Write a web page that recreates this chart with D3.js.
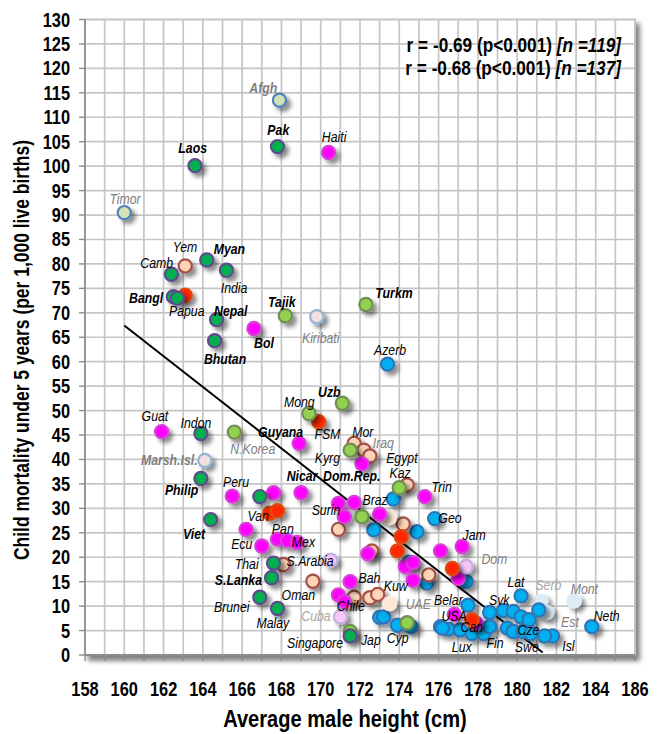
<!DOCTYPE html>
<html>
<head>
<meta charset="utf-8">
<script src="https://cdn.jsdelivr.net/npm/d3@7"></script>
<style>
body { margin: 0; background: #fff; }
</style>
</head>
<body>
<svg id="chart" width="664" height="734"></svg>
<script>
// --- data: [height cm, under-5 mortality] ---
const asia = [[167.8,104.0],[163.6,100.1],[164.2,80.8],[162.4,77.9],[165.2,78.7],[162.5,73.3],[162.7,73.0],
  [164.7,68.6],[164.6,64.3],[163.9,45.3],[163.9,36.1],[164.4,27.7],[166.9,32.4],[167.6,18.8],[167.5,15.8],
  [166.9,11.8],[167.8,9.5],[171.5,3.9]];
const centralAsia = [[168.2,69.4],[172.3,71.7],[171.1,51.5],[169.4,49.4],[165.6,45.6],[171.5,41.9],[174.0,34.2],
  [172.1,28.3],[174.4,6.6],[171.5,4.8]];
const latin = [[170.4,102.8],[166.6,66.8],[161.9,45.7],[168.9,43.3],[172.1,39.1],[165.5,32.5],[167.6,33.2],
  [169.0,33.2],[170.9,31.0],[171.7,31.2],[171.2,28.3],[173.0,28.8],[175.3,32.4],[166.2,25.7],[167.0,22.3],
  [167.8,23.7],[168.3,23.4],[168.8,23.0],[172.4,20.7],[171.5,15.0],[170.9,12.3],[171.2,10.9],[176.1,21.3],
  [177.2,22.2],[174.3,18.1],[174.7,18.9],[174.7,15.3],[177.0,15.7],[176.8,8.3],[177.9,6.5]];
const pacific = [[163.1,73.6],[169.9,47.7],[167.4,29.0],[167.8,29.5],[174.1,24.2],[173.9,21.3],[176.7,17.7],[177.7,7.2]];
const middleEast = [[163.1,79.6],[171.7,43.3],[172.2,41.9],[172.5,40.7],[174.4,34.8],[174.2,26.8],[170.9,25.7],
  [172.6,21.3],[168.1,18.5],[169.6,15.1],[171.7,11.8],[172.5,11.7],[172.9,12.4],[175.5,16.4]];
const europe = [[173.4,59.5],[173.7,31.9],[175.8,27.9],[174.9,25.2],[172.7,25.6],[175.4,14.7],[177.4,15.0],
  [174.5,19.0],[173.0,7.7],[173.9,6.1],[174.6,5.8],[173.2,7.8],[180.2,12.1],[181.1,9.2],[183.8,5.8],[181.8,3.9],
  [181.4,3.9],[179.3,9.1],[179.8,8.9],[180.2,7.8],[180.6,7.2],[178.6,8.7],[177.5,10.2],[176.1,5.8],[176.5,5.3],
  [177.1,5.1],[177.7,4.4],[178.3,4.4],[178.6,5.8],[179.5,5.5],[179.8,4.8],[180.3,4.8],[180.7,4.4],[176.2,5.5]];
// excluded countries (grey labels)
const exAsia = [[167.9,113.5],[160.0,90.5]];
const exPacific = [[169.8,69.2],[164.1,39.8]];
const exLatin = [[170.5,19.4],[171.0,7.8],[177.4,18.1]];
const exMiddleEast = [[173.5,28.1],[173.5,10.5]];
const exEurope = [[181.2,11.0],[181.5,8.7],[182.9,11.1]];

const fitLine = [[160, 67.4], [181.3, 0.5]];
const xTicks = d3.range(158, 187, 2);
const yTicks = d3.range(0, 131, 5);
const stats = [["r = -0.69 (p<0.001) ", "[n =119]"], ["r = -0.68 (p<0.001)  ", "[n =137]"]];

// [label, x, y, style]
const labels = [
  ["Afgh",167.08,116.1,"gb"],["Pak",167.84,107.5,"b"],["Haiti",170.68,106.0,"i"],["Laos",163.48,103.7,"b"],
  ["Timor",160.04,93.4,"g"],["Yem",163.09,83.5,"i"],["Myan",165.35,83.2,"b"],["Camb",161.65,80.3,"i"],
  ["India",165.59,75.2,"i"],["Bangl",161.11,73.0,"b"],["Papua",163.18,70.4,"i"],["Nepal",165.42,70.4,"b"],
  ["Bol",167.11,63.9,"b"],["Bhutan",165.13,60.7,"b"],["Tajik",168.02,72.3,"b"],["Kiribati",170.0,64.9,"g"],
  ["Turkm",173.73,74.2,"b"],["Azerb",173.53,62.4,"i"],["Uzb",170.44,53.9,"b"],["Mong",168.91,51.8,"i"],
  ["FSM",170.34,45.2,"i"],["Guyana",167.96,45.6,"b"],["Mor",172.14,45.7,"i"],["Iraq",173.19,43.4,"g"],
  ["Kyrg",170.34,40.4,"i"],["Egypt",174.13,40.4,"i"],["Kaz",174.04,37.2,"i"],["Nicar",169.05,36.6,"b"],
  ["Dom.Rep.",171.58,36.6,"b"],["Trin",176.16,34.4,"i"],["Braz",172.77,31.7,"i"],["Surin",170.27,29.8,"i"],
  ["Geo",176.58,28.0,"i"],["Jam",177.81,24.5,"i"],["Dom",178.84,19.6,"g"],["Guat",161.56,48.9,"i"],
  ["Indon",163.65,47.5,"i"],["N.Korea",166.54,42.1,"g"],["Marsh.Isl.",162.29,40.0,"gb"],["Philip",162.92,33.8,"b"],
  ["Peru",165.69,35.5,"i"],["Van",166.82,28.4,"i"],["Viet",163.55,24.8,"b"],["Ecu",165.98,22.7,"i"],
  ["Pan",168.07,25.9,"i"],["Mex",169.12,23.2,"i"],["Thai",166.23,18.6,"i"],["S.Arabia",169.46,19.2,"i"],
  ["S.Lanka",165.81,15.3,"b"],["Oman",168.86,12.4,"i"],["Brunei",165.47,9.9,"i"],["Malay",167.56,6.5,"i"],
  ["Cuba",169.76,8.0,"lg"],["Singapore",169.71,2.5,"i"],["Chile",171.53,10.0,"i"],["Bah",172.48,15.9,"i"],
  ["Kuw",173.82,14.2,"i"],["UAE",174.97,10.4,"g"],["Jap",172.55,3.2,"i"],["Cyp",173.92,3.6,"i"],
  ["Belar",176.5,11.4,"i"],["USA",176.79,8.0,"i"],["Can",177.69,5.8,"i"],["Lux",177.18,1.6,"i"],
  ["Fin",178.88,2.5,"i"],["Swe",180.49,1.6,"i"],["Cze",180.57,5.1,"i"],["Svk",179.09,11.3,"i"],
  ["Lat",179.94,15.0,"i"],["Serb",181.59,14.3,"lg"],["Mont",183.42,13.6,"g"],["Est",182.69,6.8,"g"],
  ["Neth",184.56,8.0,"i"],["Isl",182.61,1.8,"i"]
];

// marker looks per group
const groups = [
  {pts: exEurope, fill: "#dcecf4", stroke: "#dcecf4"},
  {pts: europe, fill: "#00b0f0", stroke: "#2e75b6"},
  {pts: middleEast, fill: "#fbd5b5", stroke: "#a5504a"},
  {pts: exMiddleEast, fill: "#fde9d9", stroke: "#fde9d9"},
  {pts: latin, fill: "#ff00ff", stroke: "#d63fd6"},
  {pts: exLatin, fill: "#f8c6f8", stroke: "#c6b0e0"},
  {pts: pacific, fill: "#ff2800", stroke: "#e04a10"},
  {pts: exPacific, fill: "#f2e0de", stroke: "#95b3d7"},
  {pts: centralAsia, fill: "#92d050", stroke: "#6f8f52"},
  {pts: exAsia, fill: "#d4e2b6", stroke: "#4f81bd"},
  {pts: asia, fill: "#00b050", stroke: "#5f4b8b"}
];
const labelStyle = {
  b: {weight: "bold", color: "#000"}, i: {weight: "normal", color: "#000"},
  g: {weight: "normal", color: "#808080"}, gb: {weight: "bold", color: "#7f7f7f"},
  lg: {weight: "normal", color: "#a6a6a6"}
};

// use a narrow face if there is one, otherwise squeeze Liberation Sans
function hasFont(f) {
  const c = document.createElement("canvas").getContext("2d");
  c.font = "20px monospace";
  const a = c.measureText("Singapore 158").width;
  c.font = `20px "${f}", monospace`;
  return c.measureText("Singapore 158").width !== a;
}
const narrow = hasFont("Liberation Sans Narrow");
const FONT = narrow ? '"Liberation Sans Narrow", "Arial Narrow", sans-serif' : '"Liberation Sans", Arial, sans-serif';
const SX = narrow ? 1 : 0.82;
function place(t, x, y, rot) {
  t.attr("transform", `translate(${x},${y})${rot ? " rotate(" + rot + ")" : ""} scale(${SX},1)`);
}

const svg = d3.select("#chart");
const x = d3.scaleLinear().domain([158, 186]).range([85, 635]);
const y = d3.scaleLinear().domain([0, 130]).range([655, 19.5]);

const defs = svg.append("defs");
const sh = defs.append("filter").attr("id", "sh").attr("x", "-50%").attr("y", "-50%").attr("width", "220%").attr("height", "220%");
sh.append("feDropShadow").attr("dx", 4).attr("dy", 4).attr("stdDeviation", 2.2).attr("flood-color", "#000").attr("flood-opacity", 0.45);
const fsh = defs.append("filter").attr("id", "fsh").attr("x", "-5%").attr("y", "-5%").attr("width", "112%").attr("height", "112%");
fsh.append("feDropShadow").attr("dx", 4).attr("dy", 5).attr("stdDeviation", 2.5).attr("flood-color", "#000").attr("flood-opacity", 0.5);

// plot frame with shadow
svg.append("rect").attr("x", x(158)).attr("y", y(130)).attr("width", x(186) - x(158)).attr("height", y(0) - y(130))
  .attr("fill", "#fff").attr("stroke", "#c4c4c4").attr("stroke-width", 2).attr("filter", "url(#fsh)");

// grid
const grid = svg.append("g");
grid.selectAll(".gx").data(d3.range(159, 186)).join("line")
  .attr("x1", d => x(d)).attr("x2", d => x(d)).attr("y1", y(130)).attr("y2", y(0))
  .attr("stroke", "#c6c6c6").attr("stroke-width", 1.7);
grid.selectAll(".gy").data(yTicks.filter(v => v > 0 && v < 130)).join("line")
  .attr("x1", x(158)).attr("x2", x(186)).attr("y1", d => y(d)).attr("y2", d => y(d))
  .attr("stroke", "#c6c6c6").attr("stroke-width", 1.7);

// axes lines and ticks
svg.append("line").attr("x1", x(158)).attr("x2", x(158)).attr("y1", y(130)).attr("y2", y(0))
  .attr("stroke", "#8c8c8c").attr("stroke-width", 1.6);
svg.selectAll(".yt").data(yTicks).join("line")
  .attr("x1", x(158) - 6).attr("x2", x(158)).attr("y1", d => y(d)).attr("y2", d => y(d))
  .attr("stroke", "#8c8c8c").attr("stroke-width", 1.4);
svg.append("line").attr("x1", x(158)).attr("x2", x(186)).attr("y1", y(0)).attr("y2", y(0))
  .attr("stroke", "#8c8c8c").attr("stroke-width", 2);
svg.selectAll(".xt").data(d3.range(158, 187)).join("line")
  .attr("x1", d => x(d)).attr("x2", d => x(d)).attr("y1", y(0)).attr("y2", y(0) + 6)
  .attr("stroke", "#8c8c8c").attr("stroke-width", 1.4);

// tick labels
svg.selectAll(".yl").data(yTicks).join("text")
  .attr("text-anchor", "end").attr("font-family", FONT).attr("font-weight", "bold").attr("font-size", 20)
  .text(d => d).each(function(d) { place(d3.select(this), x(158) - 15, y(d) + 7); });
svg.selectAll(".xl").data(xTicks).join("text")
  .attr("text-anchor", "middle").attr("font-family", FONT).attr("font-weight", "bold").attr("font-size", 20)
  .text(d => d).each(function(d) { place(d3.select(this), x(d), 696); });

// axis titles
place(svg.append("text").attr("text-anchor", "middle").attr("font-family", FONT).attr("font-weight", "bold")
  .attr("font-size", 24.5).text("Average male height (cm)"), 345, 727);
place(svg.append("text").attr("text-anchor", "middle").attr("font-family", FONT).attr("font-weight", "bold")
  .attr("font-size", 21.3).text("Child mortality under 5 years (per 1,000 live births)"), 29, 350, -90);

// regression line
svg.append("line").attr("x1", x(fitLine[0][0])).attr("y1", y(fitLine[0][1]))
  .attr("x2", x(fitLine[1][0])).attr("y2", y(fitLine[1][1]))
  .attr("stroke", "#000").attr("stroke-width", 2);

// markers
groups.forEach(g => {
  svg.append("g").attr("filter", "url(#sh)").selectAll("circle").data(g.pts).join("circle")
    .attr("cx", d => x(d[0])).attr("cy", d => y(d[1])).attr("r", 6.6)
    .attr("fill", g.fill).attr("stroke", g.stroke).attr("stroke-width", 2.2);
});

// country labels
svg.append("g").selectAll("text").data(labels).join("text")
  .attr("text-anchor", "middle").attr("dy", "0.35em")
  .attr("font-family", FONT).attr("font-style", "italic").attr("font-size", 15)
  .attr("font-weight", d => labelStyle[d[3]].weight).attr("fill", d => labelStyle[d[3]].color)
  .text(d => d[0]).each(function(d) { place(d3.select(this), x(d[1]), y(d[2])); });

// correlation notes
stats.forEach((s, i) => {
  const t = svg.append("text").attr("text-anchor", "end").attr("font-family", FONT)
    .attr("font-weight", "bold").attr("font-size", 21);
  t.append("tspan").text(s[0]);
  t.append("tspan").attr("font-style", "italic").text(s[1]);
  place(t, 621, 52 + i * 23);
});
</script>
</body>
</html>
